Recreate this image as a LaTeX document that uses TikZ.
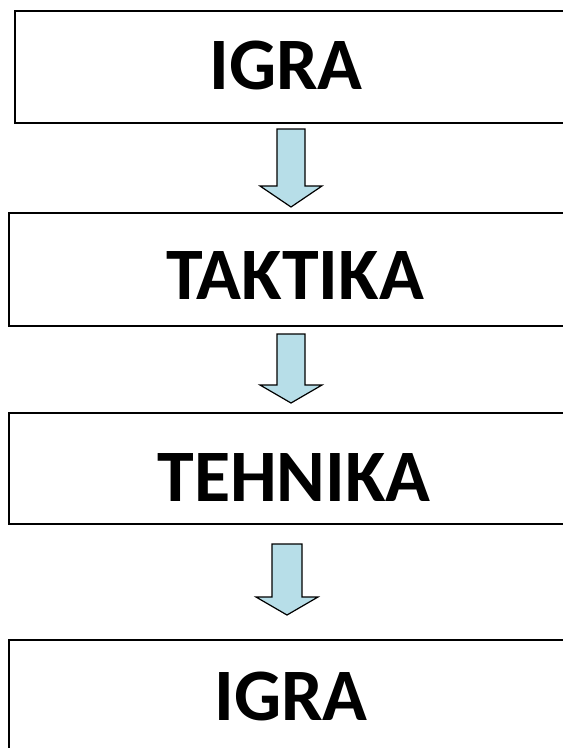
\documentclass[tikz,border=0pt]{standalone}
\usepackage{fontspec}
\setmainfont{Carlito}
\definecolor{arrowfill}{RGB}{183,222,232}
\tikzset{
  box/.style={draw=black, line width=2.4pt, fill=white, inner sep=0pt, rectangle},
  label/.style={anchor=base, inner sep=0pt, font=\fontsize{74}{80}\selectfont\bfseries},
  blockarrow/.style={draw=black, line width=1.2pt, fill=arrowfill, line join=miter}
}
\begin{document}
\begin{tikzpicture}[x=1pt,y=-1pt]
\useasboundingbox (0,0) rectangle (563,748);
\clip (0,0) rectangle (563,748);
\fill[white] (0,0) rectangle (563,748);
% boxes
\node[box, minimum width=555pt, minimum height=112pt] (b1) at (292.5,67) {};
\node[box, minimum width=561pt, minimum height=113pt] (b2) at (289.5,269.5) {};
\node[box, minimum width=561pt, minimum height=111pt] (b3) at (289.5,468.5) {};
\node[box, minimum width=561pt, minimum height=120pt] (b4) at (289.5,700) {};
% texts
\node[label] (t1) at (286,89) {IGRA};
\node[label] (t2) at (295,299) {TAKTIKA};
\node[label] (t3) at (294,501) {TEHNIKA};
\node[label] (t4) at (291,720) {IGRA};
% arrows
\coordinate (a1) at (291,129);
\coordinate (a2) at (291,334);
\coordinate (a3) at (287,544);
\draw[blockarrow] (a1) ++(-14,0) -- ++(28,0) -- ++(0,57) -- ++(17,0) -- ++(-31,21) -- ++(-31,-21) -- ++(17,0) -- cycle;
\draw[blockarrow] (a2) ++(-14,0) -- ++(28,0) -- ++(0,51) -- ++(17,0) -- ++(-31,18) -- ++(-31,-18) -- ++(17,0) -- cycle;
\draw[blockarrow] (a3) ++(-15,0) -- ++(30,0) -- ++(0,53) -- ++(16,0) -- ++(-31,18) -- ++(-31,-18) -- ++(16,0) -- cycle;
\end{tikzpicture}
\end{document}
